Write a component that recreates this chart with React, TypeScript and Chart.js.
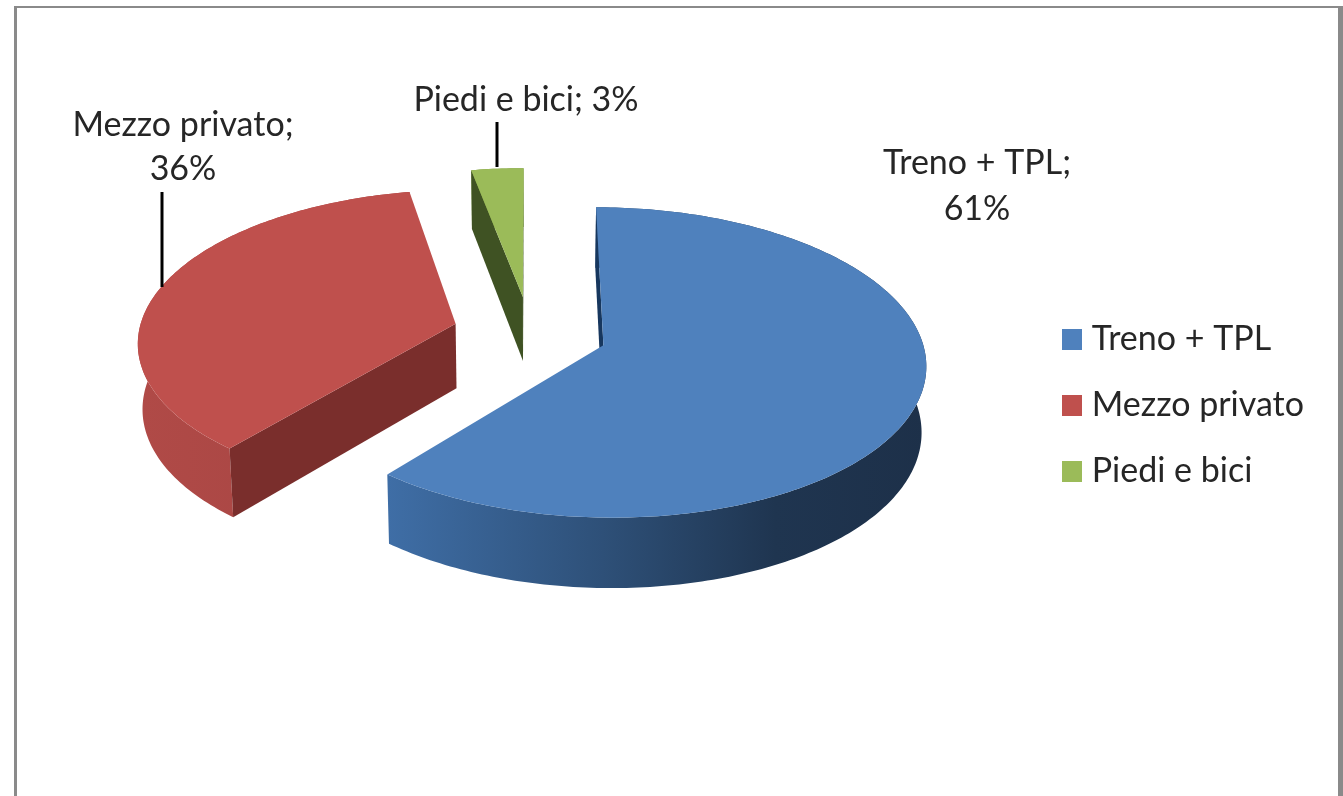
import React, { useEffect, useRef } from "react";
import { Chart, registerables } from "chart.js";

Chart.register(...registerables);

const categories = ["Treno + TPL", "Mezzo privato", "Piedi e bici"];
const shares = [61, 36, 3];
const topColors = ["#4f81bd", "#bf504d", "#9bbb59"];
const wallColors = ["#17375e", "#7a2e2c", "#3f5223"];
const rimStops = [
  [[0, "#3f6ea6"], [0.4, "#2e5078"], [0.72, "#1f3550"], [1, "#1d3049"]],
  [[0, "#b04a47"], [1, "#a54442"]],
  [[0, "#7d9a45"], [1, "#7d9a45"]],
];

const FONT = "Lato";
const FONT_SIZE = 34;
const TEXT = "#262626";

// projection of the pie's disc to the page, giving it the tilted, perspective look
const CX = 530, CY = 332.7, AX = 317, BY = 150.5, PERSP = 0.11, SHRINK = 0.012;
type Pt = number[];
const project = (u: number, v: number): Pt => {
  const w = 1 - PERSP * v;
  return [CX + (AX * u) / w, CY + (BY * v) / w, 65 + 5 * v];
};

function rimPoints(el: any) {
  const { startAngle, endAngle, outerRadius } = el.getProps(["startAngle", "endAngle", "outerRadius"]);
  const mid = (startAngle + endAngle) / 2;
  const d = el.options.offset / outerRadius;
  const ou = d * Math.cos(mid), ov = d * Math.sin(mid);
  const steps = Math.max(4, Math.ceil((endAngle - startAngle) * 60));
  const rim: Pt[] = [];
  for (let i = 0; i <= steps; i++) {
    const a = startAngle + ((endAngle - startAngle) * i) / steps;
    rim.push(project(ou + Math.cos(a), ov + Math.sin(a)));
  }
  return { apex: project(ou, ov), rim };
}

function poly(ctx: CanvasRenderingContext2D, pts: Pt[], fill: any) {
  ctx.beginPath();
  pts.forEach((p, i) => (i ? ctx.lineTo(p[0], p[1]) : ctx.moveTo(p[0], p[1])));
  ctx.closePath();
  ctx.fillStyle = fill;
  ctx.fill();
}

const drop = (p: Pt): Pt => [p[0] + (CX - p[0]) * SHRINK, p[1] + p[2]];

const pie3d = {
  id: "pie3d",
  beforeDatasetDraw(chart: any) {
    const ctx: CanvasRenderingContext2D = chart.ctx;
    const arcs = chart.getDatasetMeta(0).data;
    const shapes = arcs.map(rimPoints);
    ctx.save();
    shapes.forEach((s: any, i: number) => {
      const { apex, rim } = s;
      const first = rim[0], last = rim[rim.length - 1];
      const xs = rim.map((p: Pt) => p[0]);
      const g = ctx.createLinearGradient(Math.min(...xs), 0, Math.max(...xs), 0);
      rimStops[i].forEach((st: any) => g.addColorStop(st[0], st[1]));
      poly(ctx, [...rim, ...rim.map(drop).reverse()], g);
      if (first[0] < apex[0]) poly(ctx, [apex, first, drop(first), drop(apex)], wallColors[i]);
      if (last[0] > apex[0]) poly(ctx, [apex, last, drop(last), drop(apex)], wallColors[i]);
    });
    shapes.forEach((s: any, i: number) => {
      poly(ctx, [s.apex, ...s.rim], arcs[i].options.backgroundColor);
    });
    ctx.restore();
    return false;
  },
};

const labelLayout = [
  { lines: (c: string, v: number) => [c + ";", v + "%"], x: 977, y: [163, 209], lead: null },
  { lines: (c: string, v: number) => [c + ";", v + "%"], x: 183, y: [125, 169], lead: [162, 192, 287] },
  { lines: (c: string, v: number) => [c + "; " + v + "%"], x: 526, y: [100], lead: [497, 122, 167] },
];

const dataLabels = {
  id: "dataLabels",
  afterDatasetsDraw(chart: any) {
    const ctx: CanvasRenderingContext2D = chart.ctx;
    ctx.save();
    ctx.font = `${FONT_SIZE}px ${FONT}`;
    ctx.fillStyle = TEXT;
    ctx.textAlign = "center";
    ctx.textBaseline = "middle";
    labelLayout.forEach((l, i) => {
      l.lines(categories[i], shares[i]).forEach((t, j) => ctx.fillText(t, l.x, l.y[j]));
      if (l.lead) {
        ctx.strokeStyle = "#000";
        ctx.lineWidth = 3;
        ctx.beginPath();
        ctx.moveTo(l.lead[0], l.lead[1]);
        ctx.lineTo(l.lead[0], l.lead[2]);
        ctx.stroke();
      }
    });
    ctx.restore();
  },
};

function swatch(color: string) {
  const c = document.createElement("canvas");
  c.width = 20;
  c.height = 21;
  const x = c.getContext("2d")!;
  x.fillStyle = color;
  x.fillRect(0, 0, 20, 21);
  return c;
}

export default function App() {
  const ref = useRef<HTMLCanvasElement>(null);
  useEffect(() => {
    document.body.style.margin = "0";
    document.body.style.overflow = "hidden";
    document.body.style.background = "#fff";
    const chart = new Chart(ref.current!, {
      type: "pie",
      data: {
        labels: categories,
        datasets: [
          {
            data: shares,
            backgroundColor: topColors,
            borderWidth: 0,
            offset: 85,
          },
        ],
      },
      plugins: [pie3d, dataLabels],
      options: {
        responsive: false,
        animation: false,
        events: [],
        layout: { padding: { right: 29, top: 14 } },
        plugins: {
          tooltip: { enabled: false },
          legend: {
            position: "right",
            align: "center",
            labels: {
              usePointStyle: true,
              pointStyleWidth: 6,
              boxHeight: 20,
              padding: 32,
              color: TEXT,
              font: { family: FONT, size: FONT_SIZE },
              generateLabels(c: any) {
                return (Chart as any).overrides.pie.plugins.legend.labels
                  .generateLabels(c)
                  .map((it: any, i: number) => ({ ...it, pointStyle: swatch(topColors[i]) }));
              },
            },
          },
        },
      },
    } as any);
    return () => chart.destroy();
  }, []);
  return (
    <div style={{ position: "relative", width: 1343, height: 796, overflow: "hidden", background: "#fff" }}>
      <div
        style={{
          position: "absolute",
          left: 14,
          top: 6,
          width: 1321,
          height: 900,
          borderLeft: "3px solid #8a8a8a",
          borderTop: "2px solid #8a8a8a",
          borderRight: "5px solid #8a8a8a",
        }}
      />
      <canvas ref={ref} width={1343} height={796} style={{ position: "absolute", left: 0, top: 0 }} />
    </div>
  );
}
